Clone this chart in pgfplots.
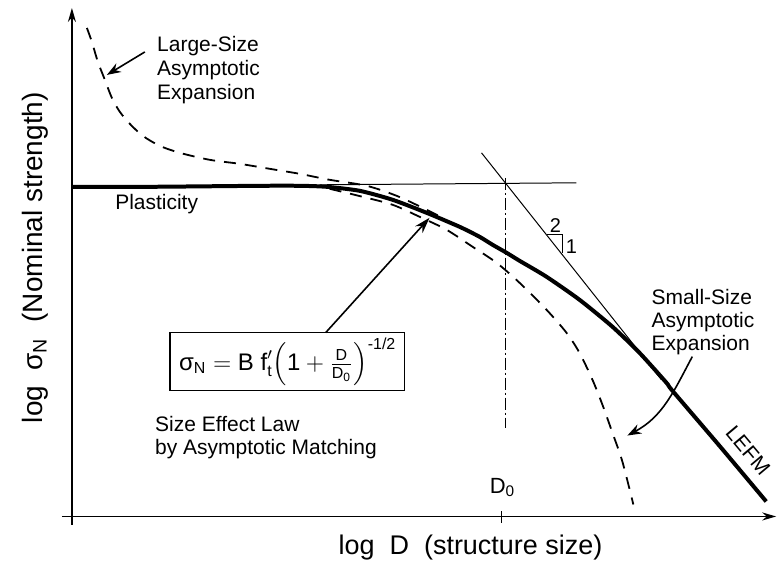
\documentclass[border=0pt]{standalone}
\usepackage{pgfplots}
\pgfplotsset{compat=1.18}
\usepackage{amsmath}
\usepackage{fontspec}
\setmainfont{Liberation Sans}
\usetikzlibrary{arrows.meta}
\begin{document}
\begin{tikzpicture}
\begin{axis}[
  x=0.5pt, y=0.5pt,
  xmin=72, xmax=777, ymin=51, ymax=560,
  axis lines=left,
  axis line style={line width=0.8pt, -{Stealth[length=7pt,width=4pt]}},
  xtick=\empty, ytick=\empty,
  clip=false,
]
\path (axis cs:0,0) rectangle (axis cs:777,568);
\draw[line width=0.8pt] (axis cs:62,51) -- (axis cs:72,51);
\draw[line width=0.8pt] (axis cs:72,51) -- (axis cs:72,42);
% main solid curve (size effect law)
\addplot[black, line width=2pt, smooth, tension=0.4] coordinates {
(72,381) (150,381) (260,382) (300,382) (327,381) (360,377) (393,368) (427,355)
(460,341) (480,331) (493,323) (507,315) (520,307) (547,291) (580,268) (613,241)
(640,215) (667,185) (673,177) (720,122) (767,66)};
% thin horizontal asymptote
\addplot[black, line width=0.5pt] coordinates {(320,383) (577,385)};
% thin LEFM asymptote
\addplot[black, line width=0.5pt] coordinates {(482,415) (662,188)};
% slope triangle
\addplot[black, line width=0.6pt] coordinates {(548,333) (563,333) (563,315)};
% dash-dot D0 line
\addplot[black, line width=0.5pt, dash pattern=on 6pt off 1.5pt on 1pt off 1.5pt] coordinates {(506,390) (506,140)};
\addplot[black, line width=0.5pt] coordinates {(502,56) (502,44)};
% large-size asymptotic expansion (upper dashed)
\addplot[black, line width=0.9pt, dash pattern=on 6pt off 4.5pt, smooth, tension=0.5] coordinates {
(87,540) (92,526) (98,506) (105,488) (112,470) (120,456) (130,444) (143,432)
(160,422) (180,415) (210,408) (240,404) (270,399) (300,394) (330,388) (367,382)
(397,372) (423,360) (445,349)};
% small-size asymptotic expansion (lower dashed)
\addplot[black, line width=0.9pt, dash pattern=on 6pt off 4.5pt, smooth, tension=0.5] coordinates {
(330,379) (363,371) (393,363) (420,351) (447,338) (473,321) (497,305) (520,285)
(547,258) (567,235) (580,215) (593,188) (603,163) (613,135) (623,106) (634,63)};
% arrows
\draw[line width=0.8pt, -{Stealth[length=7pt,width=5pt]}] (axis cs:145,516) -- (axis cs:107,493);
\draw[line width=0.8pt, -{Stealth[length=8pt,width=5pt]}] (axis cs:326,235) -- (axis cs:430,350);
\draw[line width=0.8pt, -{Stealth[length=7pt,width=5pt]}] (axis cs:693,211) to[out=-118, in=28] (axis cs:628,132);
% formula box
\draw[line width=0.8pt] (axis cs:170,235) rectangle (axis cs:405,177);
\node at (axis cs:288,206) {\fontsize{12}{14}\selectfont $\text{σ}_{\text{N}}=\text{B f}'_{\text{t}}\Bigl(\text{1}+\frac{\text{D}}{\text{D}_{\text{0}}}\Bigr)^{\text{-1/2}}$};
% texts
\node[font=\fontsize{10}{12}\selectfont] at (axis cs:556,342) {2};
\node[font=\fontsize{10}{12}\selectfont] at (axis cs:572,321) {1};
\node[anchor=north west, inner sep=0pt, align=left, font=\fontsize{10.5}{12}\selectfont] at (axis cs:157,532) {Large-Size\\Asymptotic\\Expansion};
\node[anchor=base west, inner sep=0pt, font=\fontsize{10.5}{12}\selectfont] at (axis cs:115,358) {Plasticity};
\node[anchor=north west, inner sep=0pt, align=left, font=\fontsize{10.5}{11.5}\selectfont] at (axis cs:652,279) {Small-Size\\Asymptotic\\Expansion};
\node[anchor=north west, inner sep=0pt, align=left, font=\fontsize{10.5}{11.5}\selectfont] at (axis cs:155,152) {Size Effect Law\\by Asymptotic Matching};
\node[font=\fontsize{11}{13}\selectfont] at (axis cs:503,80) {D\textsubscript{0}};
\node[font=\fontsize{10.5}{12}\selectfont, rotate=-50, inner sep=0pt] at (axis cs:749,117) {LEFM};
\node[rotate=90, font=\fontsize{14}{16}\selectfont] at (axis cs:35,310) {log\ \ σ\textsubscript{N}\ \ (Nominal strength)};
\node[font=\fontsize{13.5}{16}\selectfont] at (axis cs:471,20) {log\ \ D\ \ (structure size)};
\end{axis}
\end{tikzpicture}
\end{document}
